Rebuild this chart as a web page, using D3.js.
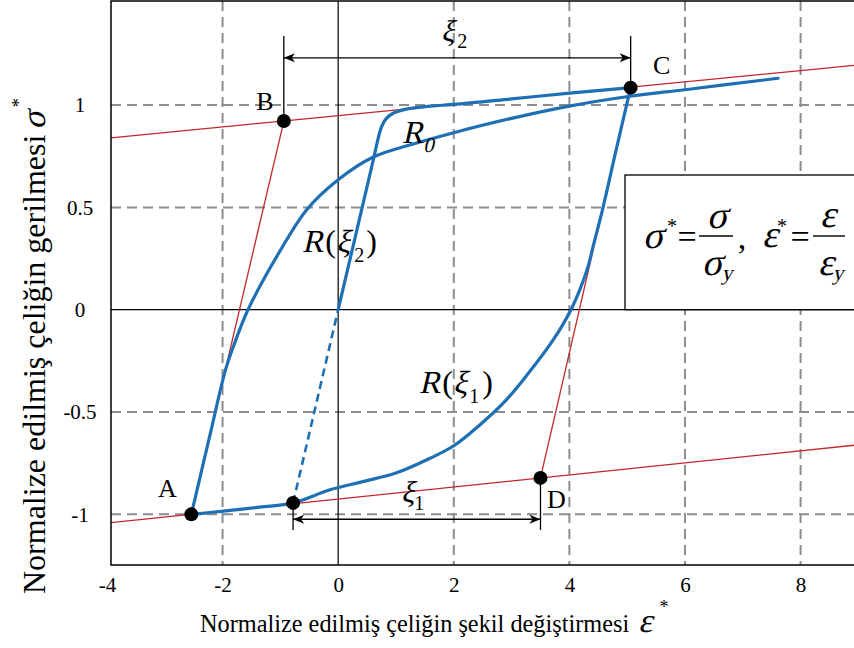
<!DOCTYPE html>
<html>
<head>
<meta charset="utf-8">
<script src="https://cdn.jsdelivr.net/npm/d3@7"></script>
<style>
  html, body { margin: 0; padding: 0; background: #fff; }
  svg { display: block; }
  text { font-family: "Liberation Serif", "Times New Roman", serif; fill: #000; }
</style>
</head>
<body>
<svg id="chart" width="854" height="648"></svg>
<script>
// ---- data (normalized strain ε*, normalized stress σ*) ----
const pointNames  = ["A", "B", "C", "D", "E"];
const pointStrain = [-2.54, -0.94, 5.06, 3.50, -0.78];
const pointStress = [-1.00, 0.922, 1.085, -0.822, -0.944];

// yield asymptotes, evaluated at the two ends of the strain range
const asymStrain      = [-4, 9];
const upperAsymStress = [0.838, 1.196];
const lowerAsymStress = [-1.043, -0.660];

// reloading branch starting at A
const branchAStrain = [-2.54, -2.22, -1.95, -1.80, -1.56, -1.00, -0.54, 0.00, 0.60, 1.30, 2.00, 3.00, 4.00, 5.05, 6.00, 7.61];
const branchAStress = [-1.00, -0.615, -0.295, -0.17, 0.00, 0.29, 0.49, 0.635, 0.745, 0.81, 0.865, 0.935, 0.995, 1.043, 1.075, 1.131];

// reloading branch starting at E: elastic part (dashed) then sharp branch up to C
const elasticEStrain = [-0.78, 0.00];
const elasticEStress = [-0.944, 0.00];
const branchEStrain = [0.00, 0.61, 0.69, 0.75, 0.82, 0.95, 1.18, 1.60, 2.00, 3.00, 4.00, 5.06];
const branchEStress = [0.00, 0.735, 0.835, 0.893, 0.930, 0.960, 0.980, 0.995, 1.003, 1.030, 1.058, 1.085];

// unloading branch from C back to A
const branchCStrain = [5.06, 4.80, 4.585, 4.42, 4.30, 4.04, 3.72, 3.20, 2.855, 2.45, 2.00, 1.59, 1.01, 0.43, -0.14, -0.78, -1.36, -2.54];
const branchCStress = [1.085, 0.77, 0.503, 0.32, 0.19, 0.007, -0.148, -0.343, -0.457, -0.563, -0.665, -0.726, -0.797, -0.84, -0.88, -0.944, -0.965, -1.00];

const xTicks = [-4, -2, 0, 2, 4, 6, 8];
const yTicks = [-1, -0.5, 0, 0.5, 1];

// ---- layout ----
const svg = d3.select("#chart");
const frame = { left: 111, top: 1, bottom: 565 };
const x = d3.scaleLinear().domain([-3.93, 9]).range([111, 858.4]);
const y = d3.scaleLinear().domain([-1.25, 1.51]).range([565.5, 0.7]);

const BLUE = "#1f6fb4";
const RED = "#c1272d";
const GRID = "#8d8d8d";
const SLANT = -13;

const zip = (xs, ys) => xs.map((v, i) => [v, ys[i]]);
const pts = pointNames.map((n, i) => ({ name: n, x: pointStrain[i], y: pointStress[i] }));
const P = Object.fromEntries(pts.map(p => [p.name, p]));

// one glyph run; slanted runs are drawn as sheared upright serif text
function glyph(parent, cx, cy, str, size, slanted, anchor) {
  return parent.append("text")
    .attr("transform", `translate(${cx},${cy})` + (slanted ? ` skewX(${SLANT})` : ""))
    .attr("font-size", size).attr("text-anchor", anchor || "start").text(str);
}
// a sequence of runs laid out left to right from (x0, y0)
function rich(parent, x0, y0, runs) {
  let cx = x0;
  runs.forEach(r => {
    const t = glyph(parent, cx + (r.dx || 0), y0 + (r.dy || 0), r.t, r.s, r.it);
    cx += (r.dx || 0) + t.node().getComputedTextLength() + (r.gap || 0);
  });
}

svg.append("defs").append("clipPath").attr("id", "plot")
  .append("rect").attr("x", frame.left).attr("y", frame.top)
  .attr("width", 854 - frame.left).attr("height", frame.bottom - frame.top);

// dashed grid
const grid = svg.append("g").attr("stroke", GRID).attr("stroke-width", 2).attr("stroke-dasharray", "10,6");
grid.selectAll("line.v").data(xTicks.filter(v => v !== 0 && v !== -4)).join("line")
  .attr("class", "v").attr("x1", d => x(d)).attr("x2", d => x(d))
  .attr("y1", frame.top).attr("y2", frame.bottom);
grid.selectAll("line.h").data(yTicks.filter(v => v !== 0)).join("line")
  .attr("class", "h").attr("y1", d => y(d)).attr("y2", d => y(d))
  .attr("x1", frame.left).attr("x2", 854);

// zero lines
svg.append("line").attr("x1", x(0)).attr("x2", x(0)).attr("y1", frame.top).attr("y2", frame.bottom)
  .attr("stroke", "#000").attr("stroke-width", 1.2);
svg.append("line").attr("x1", frame.left).attr("x2", 854).attr("y1", y(0)).attr("y2", y(0))
  .attr("stroke", "#000").attr("stroke-width", 1.2);

// definition box
const box = { x: 625, y: 175 };
svg.append("rect").attr("x", box.x).attr("y", box.y).attr("width", 260).attr("height", y(0) - box.y)
  .attr("fill", "#fff").attr("stroke", "#000").attr("stroke-width", 1.3);

const plot = svg.append("g").attr("clip-path", "url(#plot)");
const line = d3.line().x(d => x(d[0])).y(d => y(d[1]));
const smooth = d3.line().x(d => x(d[0])).y(d => y(d[1])).curve(d3.curveCatmullRom.alpha(0.5));

// red asymptotes and elastic lines
[zip(asymStrain, upperAsymStress), zip(asymStrain, lowerAsymStress),
 [[P.B.x, P.B.y], [P.A.x, P.A.y]], [[P.D.x, P.D.y], [P.C.x, P.C.y]]].forEach(seg => {
  plot.append("path").attr("d", line(seg))
    .attr("fill", "none").attr("stroke", RED).attr("stroke-width", 1.3);
});

// blue branches
plot.append("path").attr("d", line(zip(elasticEStrain, elasticEStress)))
  .attr("fill", "none").attr("stroke", BLUE).attr("stroke-width", 2.6).attr("stroke-dasharray", "8,5");
[[branchAStrain, branchAStress], [branchEStrain, branchEStress], [branchCStrain, branchCStress]]
  .forEach(([xs, ys]) => {
    plot.append("path").attr("d", smooth(zip(xs, ys)))
      .attr("fill", "none").attr("stroke", BLUE).attr("stroke-width", 3.2)
      .attr("stroke-linejoin", "round").attr("stroke-linecap", "round");
  });

// dimension lines ξ2 (B→C) and ξ1 (E→D)
function dimension(x1, x2, yLine, yEnd, p1, p2) {
  const g = svg.append("g");
  g.append("line").attr("x1", x(x1)).attr("x2", x(x2)).attr("y1", y(yLine)).attr("y2", y(yLine))
    .attr("stroke", "#000").attr("stroke-width", 1.3);
  [[x1, p1], [x2, p2]].forEach(([xv, pv]) => {
    g.append("line").attr("x1", x(xv)).attr("x2", x(xv)).attr("y1", y(yEnd)).attr("y2", y(pv))
      .attr("stroke", "#000").attr("stroke-width", 1.3);
  });
  const yl = y(yLine), a = x(x1), b = x(x2);
  g.append("path").attr("d", `M${a},${yl} L${a + 11},${yl - 4.5} L${a + 8},${yl} L${a + 11},${yl + 4.5} Z`).attr("fill", "#000");
  g.append("path").attr("d", `M${b},${yl} L${b - 11},${yl - 4.5} L${b - 8},${yl} L${b - 11},${yl + 4.5} Z`).attr("fill", "#000");
}
dimension(P.B.x, P.C.x, 1.231, 1.337, P.B.y, P.C.y);
dimension(P.E.x, P.D.x, -1.024, -1.076, P.E.y, P.D.y);

// key points
svg.selectAll("circle.pt").data(pts).join("circle").attr("class", "pt")
  .attr("cx", d => x(d.x)).attr("cy", d => y(d.y)).attr("r", 7).attr("fill", "#000");

// point letters
const letterOffset = { A: [-24, -17], B: [-19, -11], C: [31, -14], D: [16, 30] };
svg.selectAll("text.pl").data(pts.filter(p => letterOffset[p.name])).join("text").attr("class", "pl")
  .attr("x", d => x(d.x) + letterOffset[d.name][0]).attr("y", d => y(d.y) + letterOffset[d.name][1])
  .attr("text-anchor", "middle").attr("font-size", 26).text(d => d.name);

// curve labels
rich(svg, 402, 143, [{ t: "R", s: 32, it: true }, { t: "0", s: 21, it: true, dy: 9 }]);
rich(svg, 302, 252, [{ t: "R", s: 32, it: true, gap: 2 }, { t: "(", s: 32 }, { t: "ξ", s: 32, it: true, gap: 4 },
  { t: "2", s: 20, dy: 10, gap: 2 }, { t: ")", s: 32 }]);
rich(svg, 419, 393, [{ t: "R", s: 32, it: true, gap: 2 }, { t: "(", s: 32 }, { t: "ξ", s: 32, it: true, gap: 2 },
  { t: "1", s: 20, dy: 10, gap: 3 }, { t: ")", s: 32 }]);
rich(svg, 441, 41, [{ t: "ξ", s: 30, it: true, gap: 3 }, { t: "2", s: 20, dy: 7 }]);
rich(svg, 401, 502, [{ t: "ξ", s: 30, it: true }, { t: "1", s: 20, dy: 8 }]);

// definition formula
const fg = svg.append("g").attr("transform", `translate(${box.x},${box.y})`);
glyph(fg, 28, 73, "σ", 38, true, "middle");
glyph(fg, 47, 58, "*", 20, false, "middle");
glyph(fg, 62, 73, "=", 34, false, "middle");
fg.append("line").attr("x1", 74).attr("x2", 108).attr("y1", 61).attr("y2", 61).attr("stroke", "#000").attr("stroke-width", 1.4);
glyph(fg, 92, 53, "σ", 38, true, "middle");
glyph(fg, 87, 100, "σ", 38, true, "middle");
glyph(fg, 102, 105, "y", 22, true, "middle");
glyph(fg, 117, 74, ",", 34, false, "middle");
glyph(fg, 145, 72, "ε", 38, true, "middle");
glyph(fg, 157, 58, "*", 20, false, "middle");
glyph(fg, 175, 73, "=", 34, false, "middle");
fg.append("line").attr("x1", 188).attr("x2", 220).attr("y1", 61).attr("y2", 61).attr("stroke", "#000").attr("stroke-width", 1.4);
glyph(fg, 203, 52, "ε", 38, true, "middle");
glyph(fg, 201, 100, "ε", 38, true, "middle");
glyph(fg, 213, 105, "y", 22, true, "middle");

// axes tick labels
const gx = svg.append("g").attr("transform", `translate(0,${frame.bottom})`)
  .call(d3.axisBottom(x).tickValues(xTicks).tickSize(0).tickPadding(12).tickFormat(d => String(d)));
gx.select(".domain").remove();
gx.attr("font-family", null).attr("font-size", null);
gx.selectAll("text").attr("font-size", 21).attr("fill", "#000");

const gy = svg.append("g").attr("transform", `translate(${frame.left},0)`)
  .call(d3.axisLeft(y).tickValues(yTicks).tickSize(0).tickFormat(d => String(d)));
gy.select(".domain").remove();
gy.attr("font-family", null).attr("font-size", null);
gy.selectAll("text").attr("font-size", 21).attr("fill", "#000")
  .attr("x", -31).attr("text-anchor", "middle");

// frame
svg.append("path").attr("d", `M854,${frame.top} H${frame.left} V${frame.bottom} H854`)
  .attr("fill", "none").attr("stroke", "#000").attr("stroke-width", 1.5);

// axis titles
rich(svg, 200, 632, [{ t: "Normalize edilmiş çeliğin şekil değiştirmesi", s: 24.3, gap: 9 },
  { t: "ε", s: 34, it: true, gap: 7 }, { t: "*", s: 18, dy: -19 }]);
const yTitle = svg.append("g").attr("transform", "translate(45,594) rotate(-90)");
rich(yTitle, 0, 0, [{ t: "Normalize edilmiş çeliğin gerilmesi", s: 32, gap: 5 },
  { t: "σ", s: 34, it: true, gap: 4 }, { t: "*", s: 18, dy: -20 }]);
</script>
</body>
</html>
